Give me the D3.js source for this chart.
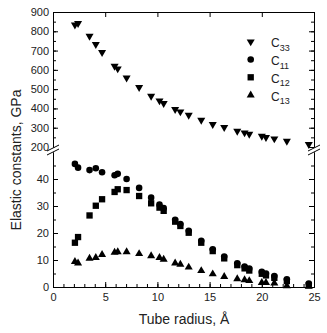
<!DOCTYPE html>
<html>
<head>
<meta charset="utf-8">
<script src="https://cdn.jsdelivr.net/npm/d3@7"></script>
<style>
  body { margin: 0; background: #fff; }
  svg { display: block; }
  text { font-family: "Liberation Sans", Arial, Helvetica, sans-serif; fill: #222; }
</style>
</head>
<body>
<svg id="chart" width="327" height="333"></svg>
<script>
// Tube radius (Å) and elastic constants (GPa)
const radius = [2.1, 2.4, 3.5, 4.1, 4.7, 5.9, 6.2, 7.05, 8.25, 9.4, 10.2, 10.6, 11.7, 12.2, 13.0, 14.2, 15.3, 16.4, 17.65, 18.35, 18.8, 20.0, 20.4, 21.2, 22.4, 24.5];
const c33 = [833, 841, 775, 732, 691, 620, 606, 559, 509, 464, 440, 426, 395, 383, 366, 340, 318, 302, 283, 274, 267, 257, 250, 243, 231, 214];
const c11 = [45.6, 44.2, 43.3, 44.0, 42.5, 41.4, 41.9, 40.0, 36.7, 33.1, 30.5, 29.2, 24.9, 23.3, 20.8, 17.1, 14.0, 11.3, 8.8, 7.6, 6.8, 5.6, 5.0, 4.1, 2.9, 1.3];
const c12 = [16.4, 18.5, 26.5, 30.1, 32.5, 35.2, 36.2, 35.9, 33.7, 31.0, 29.4, 28.2, 24.2, 22.6, 20.1, 16.4, 13.3, 10.6, 8.1, 6.9, 6.1, 4.9, 4.3, 3.4, 2.2, 0.7];
const c13 = [9.4, 8.8, 10.6, 10.9, 12.0, 12.8, 13.0, 13.0, 12.3, 11.5, 10.9, 10.2, 8.8, 8.4, 7.3, 6.0, 4.8, 3.8, 3.0, 2.6, 2.3, 1.6, 1.6, 1.4, 0.4, 0.2];

// Axis ticks
const xMajor = [0, 5, 10, 15, 20, 25];
const xMinor = d3.range(0, 26, 1);
const upperMajor = [200, 300, 400, 500, 600, 700, 800, 900];
const upperMinor = d3.range(200, 901, 50);
const lowerMajor = [0, 10, 20, 30, 40];
const lowerMinor = d3.range(0, 50, 5);

const legendNames = [["C", "33"], ["C", "11"], ["C", "12"], ["C", "13"]];

const svg = d3.select("#chart");
svg.append("rect").attr("width", 327).attr("height", 333).attr("fill", "#fff");

const L = 53, R = 314, T = 12, B = 287;
const x = d3.scaleLinear().domain([0, 25]).range([L, R]);
const yTop = d3.scaleLinear().domain([200, 900]).range([147, T]);
const yBot = d3.scaleLinear().domain([0, 50]).range([B, 152]);

const tickFont = "11px";

function styleAxis(g) {
  g.selectAll("path.domain").attr("stroke", "#000").attr("stroke-width", 1);
  g.selectAll(".tick line").attr("stroke", "#000").attr("stroke-width", 1);
  g.selectAll(".tick text").style("font-size", tickFont).attr("fill", "#222");
}

// Bottom x axis
const gx = svg.append("g").attr("transform", `translate(0,${B})`);
gx.call(d3.axisBottom(x).tickValues(xMinor).tickSize(-3).tickSizeOuter(0).tickFormat(""));
gx.call(styleAxis);
const gx2 = svg.append("g").attr("transform", `translate(0,${B})`);
gx2.call(d3.axisBottom(x).tickValues(xMajor).tickSize(-5).tickSizeOuter(0).tickPadding(6).tickFormat(d3.format("d")));
gx2.call(styleAxis);

// Top mirror axis
const gt = svg.append("g").attr("transform", `translate(0,${T})`);
gt.call(d3.axisTop(x).tickValues(xMinor).tickSize(-3).tickSizeOuter(0).tickFormat(""));
gt.call(d3.axisTop(x).tickValues(xMajor).tickSize(-5).tickSizeOuter(0).tickFormat(""));
gt.call(styleAxis);

// Left axes (upper and lower panels)
function leftAxes(scale, major, minor) {
  const g1 = svg.append("g").attr("transform", `translate(${L},0)`);
  g1.call(d3.axisLeft(scale).tickValues(minor).tickSize(-3).tickSizeOuter(0).tickFormat(""));
  g1.call(styleAxis);
  const g2 = svg.append("g").attr("transform", `translate(${L},0)`);
  g2.call(d3.axisLeft(scale).tickValues(major).tickSize(-5).tickSizeOuter(0).tickPadding(4).tickFormat(d3.format("d")));
  g2.call(styleAxis);
}
leftAxes(yTop, upperMajor, upperMinor);
leftAxes(yBot, lowerMajor, lowerMinor);

// Right mirror axes
function rightAxes(scale, major, minor) {
  const g = svg.append("g").attr("transform", `translate(${R},0)`);
  g.call(d3.axisRight(scale).tickValues(minor).tickSize(-3).tickSizeOuter(0).tickFormat(""));
  const g2 = svg.append("g").attr("transform", `translate(${R},0)`);
  g2.call(d3.axisRight(scale).tickValues(major).tickSize(-5).tickSizeOuter(0).tickFormat(""));
  g.call(styleAxis); g2.call(styleAxis);
}
rightAxes(yTop, upperMajor, upperMinor);
rightAxes(yBot, lowerMajor, lowerMinor);

// Axis-break marks
function breakMark(cx) {
  const g = svg.append("g");
  g.append("path")
    .attr("d", `M${cx - 6},${151} L${cx + 6},${145} L${cx + 6},${149} L${cx - 6},${155} Z`)
    .attr("fill", "#fff");
  g.append("line").attr("x1", cx - 6).attr("y1", 151).attr("x2", cx + 6).attr("y2", 145)
    .attr("stroke", "#000").attr("stroke-width", 1);
  g.append("line").attr("x1", cx - 6).attr("y1", 155).attr("x2", cx + 6).attr("y2", 149)
    .attr("stroke", "#000").attr("stroke-width", 1);
}
breakMark(L);
breakMark(R);

// Markers
const symDown = d3.symbol().type(d3.symbolTriangle).size(28);
const symUp = d3.symbol().type(d3.symbolTriangle).size(28);
const symCircle = d3.symbol().type(d3.symbolCircle).size(34);
const symSquare = d3.symbol().type(d3.symbolSquare).size(40);

function drawSeries(values, scale, sym, rot) {
  svg.append("g").selectAll("path")
    .data(radius.map((r, i) => [r, values[i]]))
    .join("path")
    .attr("d", sym())
    .attr("transform", d => `translate(${x(d[0])},${scale(d[1])}) rotate(${rot})`)
    .attr("fill", "#000");
}
drawSeries(c33, yTop, symDown, 180);
drawSeries(c13, yBot, symUp, 0);
drawSeries(c12, yBot, symSquare, 0);
drawSeries(c11, yBot, symCircle, 0);

// Legend
const legendSyms = [[symDown, 180], [symCircle, 0], [symSquare, 0], [symUp, 0]];
const lg = svg.append("g");
legendNames.forEach((n, i) => {
  const yy = 41.7 + i * 17.8;
  lg.append("path").attr("d", legendSyms[i][0]())
    .attr("transform", `translate(250.7,${yy}) rotate(${legendSyms[i][1]})`)
    .attr("fill", "#000");
  const t = lg.append("text").attr("x", 271).attr("y", yy + 5.5).style("font-size", "12px");
  t.append("tspan").text(n[0]);
  t.append("tspan").attr("dy", 3.5).style("font-size", "9px").text(n[1]);
});

// Axis titles
svg.append("text")
  .attr("transform", `translate(21,160) rotate(-90)`)
  .attr("text-anchor", "middle")
  .style("font-size", "14px")
  .text("Elastic constants, GPa");
svg.append("text")
  .attr("x", 184).attr("y", 324)
  .attr("text-anchor", "middle")
  .style("font-size", "14px")
  .text("Tube radius, Å");
</script>
</body>
</html>
